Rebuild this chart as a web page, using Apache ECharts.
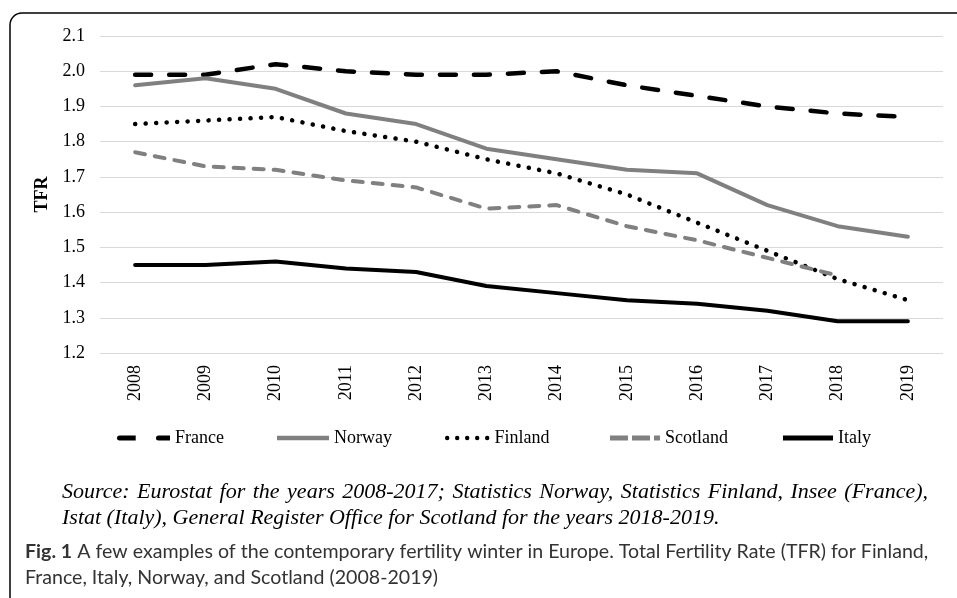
<!DOCTYPE html>
<html>
<head>
<meta charset="utf-8">
<script src="https://cdn.jsdelivr.net/npm/echarts@6/dist/echarts.min.js"></script>
<style>
html,body{margin:0;padding:0;background:#fff;}
#chart{width:957px;height:598px;}
</style>
</head>
<body>
<div id="chart"></div>
<script>
var years = ['2008','2009','2010','2011','2012','2013','2014','2015','2016','2017','2018','2019'];
var france   = [1.99, 1.99, 2.02, 2.00, 1.99, 1.99, 2.00, 1.96, 1.93, 1.90, 1.88, 1.87];
var norway   = [1.96, 1.98, 1.95, 1.88, 1.85, 1.78, 1.75, 1.72, 1.71, 1.62, 1.56, 1.53];
var finland  = [1.85, 1.86, 1.87, 1.83, 1.80, 1.75, 1.71, 1.65, 1.57, 1.49, 1.41, 1.35];
var scotland = [1.77, 1.73, 1.72, 1.69, 1.67, 1.61, 1.62, 1.56, 1.52, 1.47, 1.42, null];
var italy    = [1.45, 1.45, 1.46, 1.44, 1.43, 1.39, 1.37, 1.35, 1.34, 1.32, 1.29, 1.29];
var yTicks = {min: 1.2, max: 2.1, interval: 0.1};
var sourceLine1 = 'Source: Eurostat for the years 2008-2017; Statistics Norway, Statistics Finland, Insee (France),';
var sourceLine2 = 'Istat (Italy), General Register Office for Scotland for the years 2018-2019.';
var captionLine1 = 'A few examples of the contemporary fertility winter in Europe. Total Fertility Rate (TFR) for Finland,';
var captionLine2 = 'France, Italy, Norway, and Scotland (2008-2019)';

var serif = 'Liberation Serif, Times New Roman, serif';
var chart = echarts.init(document.getElementById('chart'), null, {renderer: 'canvas'});

// legend icon shapes (Excel-style line samples)
function dotsPath(n, step, r) {
  var p = 'path://';
  for (var i = 0; i < n; i++) {
    var c = r + i * step;
    p += 'M' + (c - r) + ',' + r + 'A' + r + ',' + r + ' 0 1,0 ' + (c + r) + ',' + r +
         'A' + r + ',' + r + ' 0 1,0 ' + (c - r) + ',' + r + 'Z ';
  }
  return p;
}
var icons = {
  France:   {icon: 'path://M2.5,0H18V5H2.5A2.5,2.5 0 0,1 2.5,0Z M40,0H51V5H40A2.5,2.5 0 0,1 40,0Z', w: 53, h: 5},
  Norway:   {icon: 'rect', w: 52, h: 4.5},
  Finland:  {icon: dotsPath(5, 10, 2.2), w: 44.4, h: 4.4},
  Scotland: {icon: 'path://M0,0H18V5H0Z M22,0H40V5H22Z M44,0H50V5H44Z', w: 50, h: 5},
  Italy:    {icon: 'rect', w: 50, h: 5}
};

function legendAt(name, left) {
  var ic = icons[name];
  return {
    data: [{name: name, icon: ic.icon}], left: left, top: 429,
    itemWidth: ic.w, itemHeight: ic.h, itemGap: 0, symbolKeepAspect: false,
    padding: 0, selectedMode: false,
    itemStyle: {borderWidth: 0},
    textStyle: {fontFamily: serif, fontSize: 18, color: '#000'}
  };
}

// justified source line 1: place words across a fixed width
var sourceFont = 'italic 22px ' + serif;
var cnv = document.createElement('canvas').getContext('2d');
cnv.font = sourceFont;
var words = sourceLine1.split(' ');
var widths = words.map(function (w) { return cnv.measureText(w).width; });
var total = widths.reduce(function (a, b) { return a + b; }, 0);
var lineStart = 62, lineEnd = 928;
var gap = Math.max(4, (lineEnd - lineStart - total) / (words.length - 1));
var graphics = [
  {type: 'rect', shape: {x: 10, y: 13, width: 1200, height: 1200, r: [12, 0, 0, 0]},
    style: {fill: 'none', stroke: '#000', lineWidth: 1.5}, silent: true}
];
var cx = lineStart;
words.forEach(function (w, i) {
  graphics.push({type: 'text', x: cx, y: 492, style: {text: w, font: sourceFont, fill: '#000', verticalAlign: 'middle'}});
  cx += widths[i] + gap;
});
graphics.push({type: 'text', x: 62, y: 518, style: {text: sourceLine2, font: sourceFont, fill: '#000', verticalAlign: 'middle'}});
graphics.push({type: 'text', x: 25, y: 552, style: {
  text: '{b|Fig. 1} ' + captionLine1,
  rich: {b: {fontFamily: 'Lato', fontSize: 19.6, fontWeight: 'bold', fill: '#333'}},
  fontFamily: 'Lato', fontSize: 19.6, fill: '#333', verticalAlign: 'middle'}});
graphics.push({type: 'text', x: 25, y: 578, style: {
  text: captionLine2, fontFamily: 'Lato', fontSize: 19.6, fill: '#333', verticalAlign: 'middle'}});

chart.setOption({
  animation: false,
  backgroundColor: '#fff',
  grid: {left: 100, right: 14, top: 36, bottom: 245, containLabel: false},
  legend: [
    legendAt('France', 117),
    legendAt('Norway', 277),
    legendAt('Finland', 445),
    legendAt('Scotland', 610),
    legendAt('Italy', 783)
  ],
  xAxis: {
    type: 'category', data: years, boundaryGap: true,
    axisLine: {show: false}, axisTick: {show: false},
    axisLabel: {rotate: 90, margin: 12, fontFamily: serif, fontSize: 18, color: '#000'}
  },
  yAxis: {
    type: 'value', min: yTicks.min, max: yTicks.max, interval: yTicks.interval,
    name: 'TFR', nameLocation: 'middle', nameRotate: 90, nameGap: 41,
    nameTextStyle: {fontFamily: serif, fontSize: 18, fontWeight: 'bold', color: '#000'},
    axisLine: {show: false}, axisTick: {show: false},
    axisLabel: {margin: 15, fontFamily: serif, fontSize: 18, color: '#000',
      formatter: function (v) { return v.toFixed(1); }},
    splitLine: {lineStyle: {color: '#d9d9d9', width: 1}}
  },
  series: [
    {name: 'France', type: 'line', data: france, symbol: 'none', color: '#000',
      lineStyle: {color: '#000', width: 4.5, type: [16, 18], cap: 'round'}},
    {name: 'Norway', type: 'line', data: norway, symbol: 'none', color: '#808080',
      lineStyle: {color: '#808080', width: 4, type: 'solid', cap: 'round'}},
    {name: 'Finland', type: 'line', data: finland, symbol: 'none', color: '#000',
      lineStyle: {color: '#000', width: 4.5, type: [0.1, 10.4], cap: 'round'}},
    {name: 'Scotland', type: 'line', data: scotland, symbol: 'none', color: '#808080',
      lineStyle: {color: '#808080', width: 4, type: [10, 10], cap: 'round'}},
    {name: 'Italy', type: 'line', data: italy, symbol: 'none', color: '#000',
      lineStyle: {color: '#000', width: 4, type: 'solid', cap: 'round'}}
  ],
  graphic: graphics
});
</script>
</body>
</html>
